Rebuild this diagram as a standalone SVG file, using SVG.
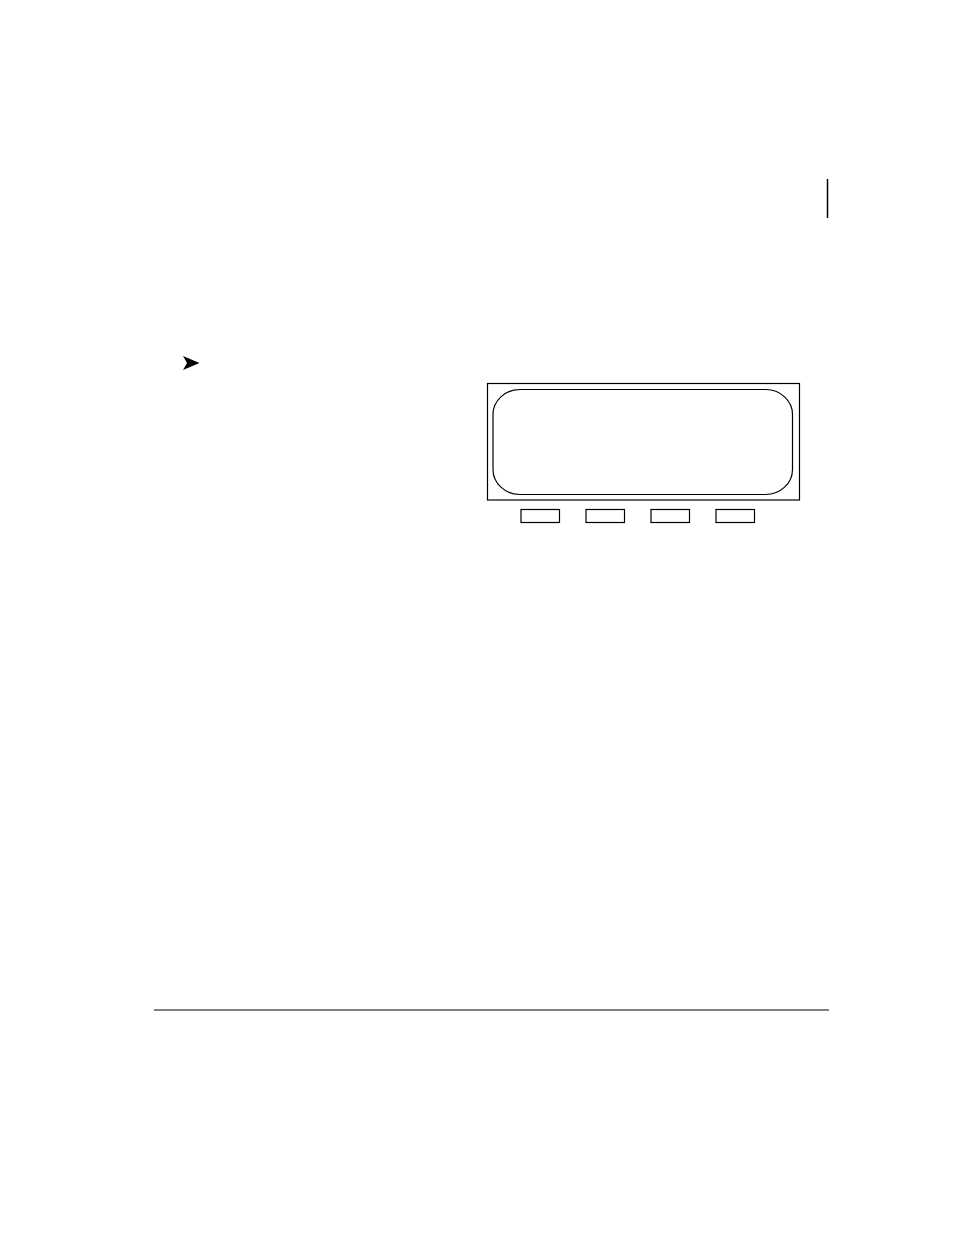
<svg xmlns="http://www.w3.org/2000/svg" width="954" height="1235" viewBox="0 0 954 1235">
<style>
.o{fill:none;stroke:#000;stroke-width:1.2}
</style>
<rect width="954" height="1235" fill="#fff"/>
<g id="margin-bar"><line x1="827.5" y1="179" x2="827.5" y2="218" stroke="#000" stroke-width="1.5"/></g>
<g id="bullet"><path d="M183,356 L199.5,363 L183,370 L187,363 Z" fill="#000"/></g>
<g id="display">
<rect class="o" x="487.5" y="383.5" width="312" height="116.5"/>
<rect class="o" x="493" y="389.5" width="299.5" height="105" rx="27" ry="25"/>
</g>
<g id="softkeys">
<rect class="o" x="521" y="509.5" width="38.5" height="13"/>
<rect class="o" x="586" y="509.5" width="38.5" height="13"/>
<rect class="o" x="651" y="509.5" width="38.5" height="13"/>
<rect class="o" x="716" y="509.5" width="38.5" height="13"/>
</g>
<g id="footer-rule"><line x1="154" y1="1010" x2="829" y2="1010" stroke="#808080" stroke-width="2"/></g>
</svg>
